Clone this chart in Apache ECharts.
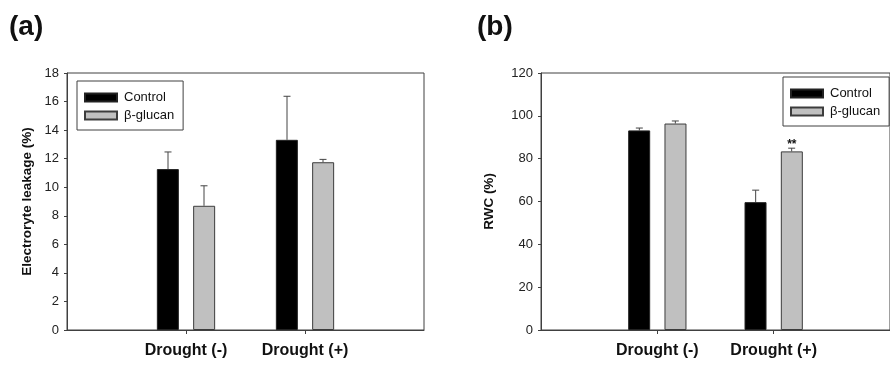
<!DOCTYPE html>
<html>
<head>
<meta charset="utf-8">
<script src="https://cdn.jsdelivr.net/npm/echarts@6/dist/echarts.min.js"></script>
<style>html,body{margin:0;padding:0;background:#fff}#c{width:890px;height:367px}</style>
</head>
<body>
<div id="c"></div>
<script>
// ---- data ----
var categories = ['Drought (-)', 'Drought (+)'];
var seriesNames = ['Control', 'β-glucan'];
// panel (a) Electrolyte leakage (%)
var leakControl = [11.27, 13.32];
var leakControlErr = [1.2, 3.05];
var leakGlucan = [8.7, 11.75];
var leakGlucanErr = [1.4, 0.2];
// panel (b) RWC (%)
var rwcControl = [93.2, 59.7];
var rwcControlErr = [1.1, 5.6];
var rwcGlucan = [96.4, 83.4];
var rwcGlucanErr = [1.2, 1.5];
var rwcGlucanSig = ['', '**'];
var leakTicks = {min: 0, max: 18, interval: 2};
var rwcTicks = {min: 0, max: 120, interval: 20};

// ---- build ----
var FONT = 'Arial, "Liberation Sans", sans-serif';
var axisData = [''].concat(categories).concat(['']);
function pad(arr) { return ['-'].concat(arr).concat(['-']); }
function showMid(i) { return i >= 1 && i <= categories.length; }
var chart = echarts.init(document.getElementById('c'));

function errSeries(xi, yi, vals, errs, dx) {
  var d = vals.map(function (v, i) { return [i + 1, v, v + errs[i]]; });
  return {
    type: 'custom', xAxisIndex: xi, yAxisIndex: yi, z: 1, silent: true,
    data: d,
    renderItem: function (params, api) {
      var p0 = api.coord([api.value(0), api.value(1)]);
      var p1 = api.coord([api.value(0), api.value(2)]);
      var x = p0[0] + dx;
      var st = {stroke: '#444', lineWidth: 1};
      return {type: 'group', children: [
        {type: 'line', shape: {x1: x, y1: p0[1], x2: x, y2: p1[1]}, style: st},
        {type: 'line', shape: {x1: x - 3.5, y1: p1[1], x2: x + 3.5, y2: p1[1]}, style: st}
      ]};
    }
  };
}

function xAxis(gi) {
  return {
    type: 'category', gridIndex: gi, data: axisData, boundaryGap: false,
    axisLine: {show: true, lineStyle: {color: '#404040', width: 1}},
    axisTick: {show: true, length: 4, inside: false, interval: function (i) { return showMid(i); }, lineStyle: {color: '#404040'}},
    axisLabel: {interval: function (i) { return showMid(i); }, margin: 13, fontFamily: FONT, fontSize: 16, fontWeight: 'bold', color: '#111'},
    splitLine: {show: false}
  };
}
function yAxis(gi, t, name, gap) {
  return {
    type: 'value', gridIndex: gi, min: t.min, max: t.max, interval: t.interval,
    name: name, nameLocation: 'middle', nameRotate: 90, nameGap: gap,
    nameTextStyle: {fontFamily: FONT, fontSize: 13.5, fontWeight: 'bold', color: '#111'},
    axisLine: {show: true, lineStyle: {color: '#404040', width: 1}},
    axisTick: {show: true, length: 3, lineStyle: {color: '#404040'}},
    axisLabel: {margin: 8, fontFamily: FONT, fontSize: 13, color: '#222'},
    splitLine: {show: false}
  };
}
var ctrlStyle = {color: '#000', borderColor: '#222', borderWidth: 1};
var glucStyle = {color: '#c0c0c0', borderColor: '#3c3c3c', borderWidth: 1};
function bars(xi, yi, name, vals, style, extra) {
  var s = {type: 'bar', name: name, xAxisIndex: xi, yAxisIndex: yi, data: pad(vals),
    barWidth: 22, barGap: '65%', itemStyle: style, z: 2};
  if (extra) for (var k in extra) s[k] = extra[k];
  return s;
}
var legendBase = {
  orient: 'vertical', icon: 'rect', itemWidth: 32, itemHeight: 8, itemGap: 5,
  borderColor: '#404040', borderWidth: 1, padding: [10, 9, 8, 7],
  textStyle: {fontFamily: FONT, fontSize: 13, color: '#111', padding: [0, 0, 0, 2]},
  data: seriesNames
};

var option = {
  animation: false,
  backgroundColor: '#fff',
  title: [
    {text: '(a)', left: 4, top: 8, textStyle: {fontFamily: FONT, fontSize: 28, fontWeight: 'bold', color: '#111'}},
    {text: '(b)', left: 472, top: 8, textStyle: {fontFamily: FONT, fontSize: 28, fontWeight: 'bold', color: '#111'}}
  ],
  grid: [
    {left: 67, top: 73, width: 357, height: 257, show: true, borderColor: '#404040', borderWidth: 1, backgroundColor: 'transparent'},
    {left: 541, top: 73, width: 357, height: 257, show: true, borderColor: '#404040', borderWidth: 1, backgroundColor: 'transparent'}
  ],
  legend: [
    Object.assign({}, legendBase, {left: 77, top: 81}),
    Object.assign({}, legendBase, {left: 783, top: 77})
  ],
  xAxis: [xAxis(0), xAxis(1)],
  yAxis: [yAxis(0, leakTicks, 'Electroryte leakage (%)', 33), yAxis(1, rwcTicks, 'RWC (%)', 45)],
  series: [
    bars(0, 0, seriesNames[0], leakControl, ctrlStyle),
    bars(0, 0, seriesNames[1], leakGlucan, glucStyle),
    errSeries(0, 0, leakControl, leakControlErr, -18),
    errSeries(0, 0, leakGlucan, leakGlucanErr, 18),
    bars(1, 1, seriesNames[0], rwcControl, ctrlStyle),
    bars(1, 1, seriesNames[1], rwcGlucan, glucStyle, {
      label: {show: true, position: 'top', distance: 1, fontFamily: FONT, fontSize: 12, fontWeight: 'bold', color: '#111',
        formatter: function (p) { return rwcGlucanSig[p.dataIndex - 1] || ''; }}
    }),
    errSeries(1, 1, rwcControl, rwcControlErr, -18),
    errSeries(1, 1, rwcGlucan, rwcGlucanErr, 18)
  ]
};
chart.setOption(option);
</script>
</body>
</html>
